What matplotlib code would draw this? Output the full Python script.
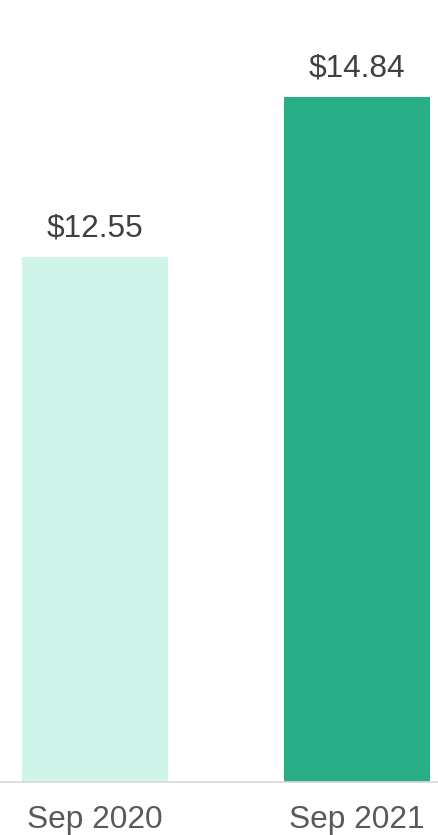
import matplotlib.pyplot as plt

# --- data ---
periods = ["Sep 2020", "Sep 2021"]
prices = [12.55, 14.84]
bar_colors = ["#cff4e9", "#2aae87"]

plt.rcParams['font.family'] = ['Liberation Sans', 'DejaVu Sans']

fig = plt.figure(figsize=(4.39, 8.35), dpi=100)
ax = fig.add_axes([0, 53 / 835, 1, 782 / 835])

xs = range(len(periods))
bars = ax.bar(xs, prices, width=0.557, color=bar_colors, bottom=0)

for x, v in zip(xs, prices):
    ax.annotate("$%.2f" % v, (x, v), xytext=(0, 10), textcoords='offset points',
                ha='center', va='bottom', fontsize=22.8, color='#404040')

ax.set_xlim(-0.3626, 1.313)
ax.set_ylim(5.04, 16.23)
ax.set_xticks(list(xs))
ax.set_xticklabels(periods, fontsize=22.8, color='#595959')
ax.tick_params(axis='x', length=0, pad=16.5)
ax.set_yticks([])
for s in ['top', 'left', 'right']:
    ax.spines[s].set_visible(False)
ax.spines['bottom'].set_color('#d9d9d9')
ax.spines['bottom'].set_linewidth(1.2)

fig.savefig("out.png", dpi=100)
